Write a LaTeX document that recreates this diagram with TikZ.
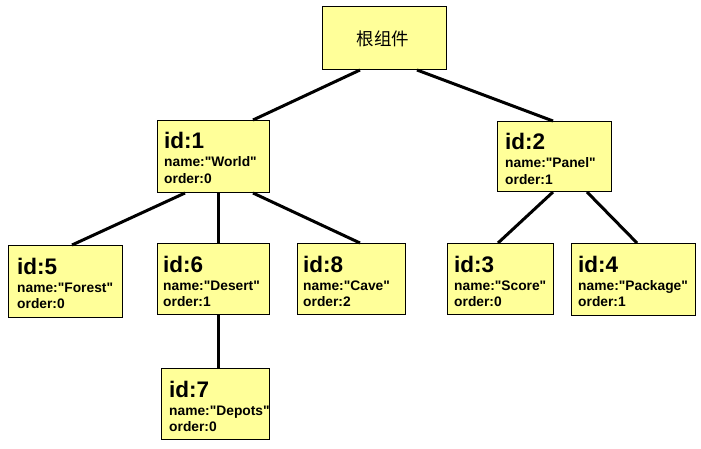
\documentclass[tikz,border=0pt]{standalone}
\usepackage{fontspec}
\setmainfont{Liberation Sans}[Ligatures=TeXOff]
\newfontfamily\cjk{Noto Sans CJK SC}
\definecolor{boxfill}{HTML}{FFFF99}
\tikzset{
  compbox/.style={draw=black, line width=1pt, fill=boxfill, inner sep=0pt},
  idtext/.style={anchor=base west, inner sep=0pt, font=\fontsize{22.5}{24}\selectfont\bfseries},
  smalltext/.style={anchor=base west, inner sep=0pt, font=\fontsize{13.8}{15}\selectfont\bfseries},
  edge/.style={line width=3pt, black},
}
% #1 name, #2 x1, #3 y1, #4 x2, #5 y2, #6 text x, #7 id, #8 name text, #9 order
\newcommand{\compnode}[9]{%
  \node[compbox, minimum width=#4pt-#2pt, minimum height=#5pt-#3pt, anchor=north west] (#1) at (#2pt,-#3pt) {};
  \node[idtext] (#1id) at (#6pt,-#3pt-29pt) {id:#7};
  \node[smalltext] (#1nm) at (#6pt,-#3pt-47pt) {name:"#8"};
  \node[smalltext] (#1or) at (#6pt,-#3pt-63.5pt) {order:#9};
}
\begin{document}
\begin{tikzpicture}[x=1pt,y=1pt]
\useasboundingbox[fill=white] (0,0) rectangle (701,-449);
% root
\node[compbox, minimum width=124pt, minimum height=63pt, anchor=north west] (root) at (322,-6) {};
\node[inner sep=0pt, font=\cjk\fontsize{17.5}{19}\selectfont] (roottext) at (383,-38.5) {根组件};
\compnode{n1}{157}{120}{269}{192}{164}{1}{World}{0}
\compnode{n2}{497}{121}{611}{191}{505}{2}{Panel}{1}
\compnode{n5}{8}{245}{122}{317}{17}{5}{Forest}{0}
\compnode{n6}{157}{243}{269}{314}{163}{6}{Desert}{1}
\compnode{n8}{297}{243}{405}{314}{303}{8}{Cave}{2}
\compnode{n7}{161}{368}{269}{439}{169}{7}{Depots}{0}
\compnode{n3}{447}{243}{553}{314}{454}{3}{Score}{0}
\compnode{n4}{571}{243}{695}{315}{578}{4}{Package}{1}
\draw[edge] (root.south -| 360,0) -- (n1.north -| 253,0);
\draw[edge] (root.south -| 417,0) -- (n2.north -| 553,0);
\draw[edge] (n1.south -| 185,0) -- (n5.north -| 72,0);
\draw[edge] (n1.south -| 218,0) -- (n6.north -| 218,0);
\draw[edge] (n1.south -| 253,0) -- (n8.north -| 360,0);
\draw[edge] (n6.south -| 218,0) -- (n7.north -| 218,0);
\draw[edge] (n2.south -| 553,0) -- (n3.north -| 498,0);
\draw[edge] (n2.south -| 587,0) -- (n4.north -| 637,0);
\end{tikzpicture}
\end{document}
